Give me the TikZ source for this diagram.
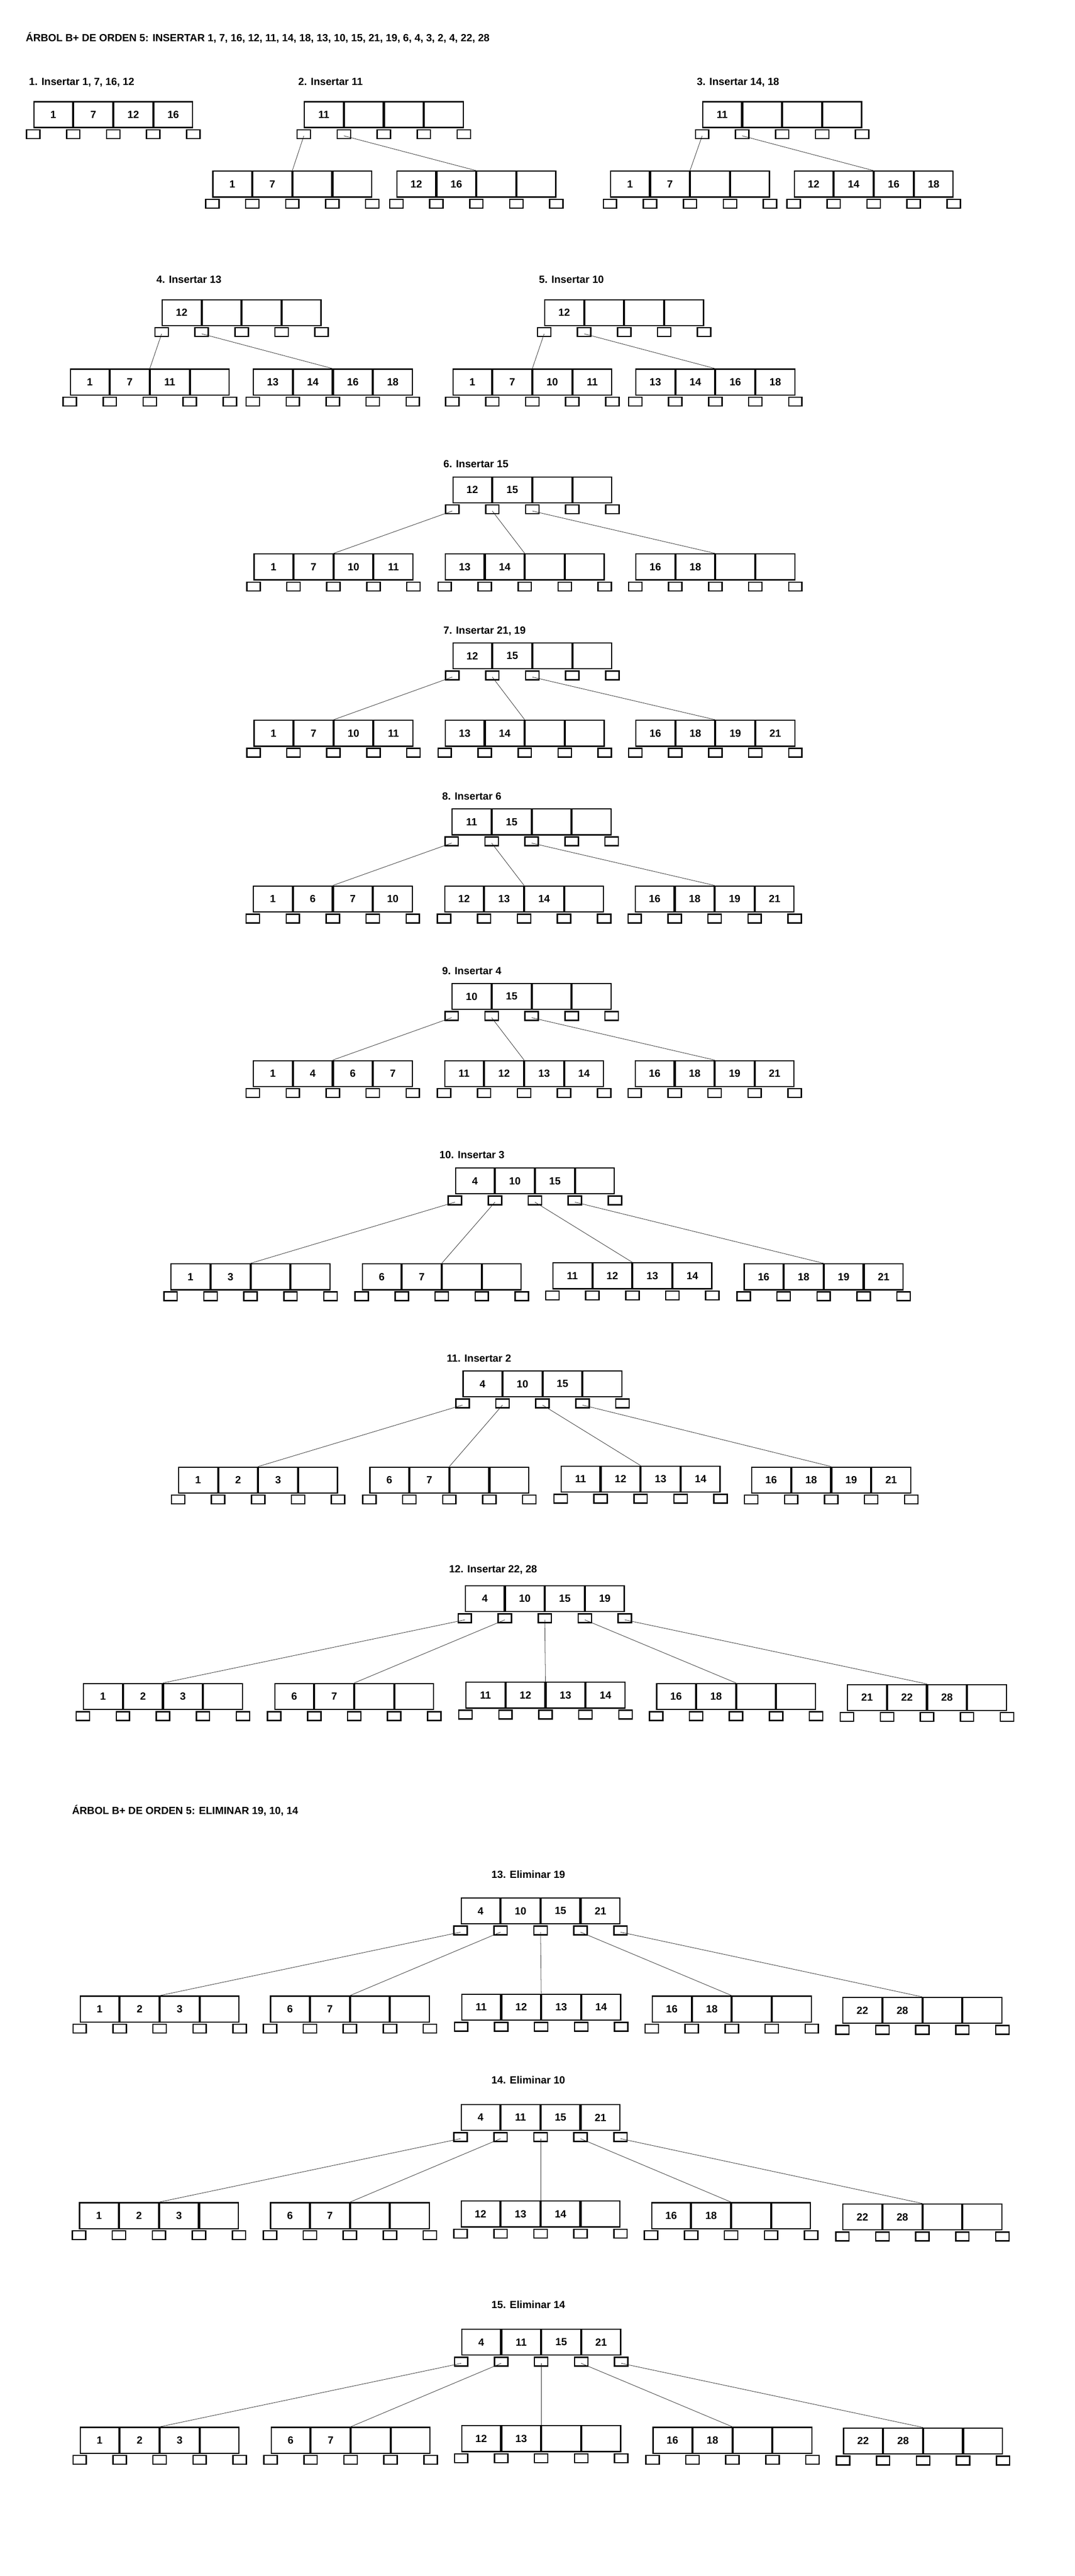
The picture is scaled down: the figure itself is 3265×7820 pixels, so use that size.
\documentclass[tikz,border=0pt]{standalone}
\usepackage{fontspec}
\setmainfont{Liberation Sans}
\tikzset{
  keybox/.style={draw=black, line width=3.5pt, minimum width=482.5pt, minimum height=78.5pt, inner sep=0pt},
  keytext/.style={inner sep=0pt, font=\fontsize{31.5}{38}\selectfont\bfseries},
  divider/.style={draw=black, line width=6.5pt},
  ptrbox/.style={draw=black, line width=4pt, minimum width=40.5pt, minimum height=26.6pt, inner sep=0pt},
  link/.style={draw=black!85, line width=1.2pt},
  lbl/.style={inner sep=0pt, anchor=base west, font=\fontsize{31.5}{38}\selectfont\bfseries},
}
% #1 name, #2 left, #3 top, #4-#7 keys
\newcommand\bpn[7]{%
  \node[keybox] (#1) at ({#2+243},{#3+41}) {};
  \draw[divider] ({#2+121.5},{#3}) -- ({#2+121.5},{#3+82});
  \draw[divider] ({#2+243},{#3}) -- ({#2+243},{#3+82});
  \draw[divider] ({#2+364.5},{#3}) -- ({#2+364.5},{#3+82});
  \node[keytext] (#1-k1) at ({#2+60.75},{#3+41}) {#4};
  \node[keytext] (#1-k2) at ({#2+182.25},{#3+41}) {#5};
  \node[keytext] (#1-k3) at ({#2+303.75},{#3+41}) {#6};
  \node[keytext] (#1-k4) at ({#2+425.25},{#3+41}) {#7};
  \foreach \i in {0,...,4}{\node[ptrbox] (#1-p\i) at ({#2+121.5*\i},{#3+100.3}) {};}
}
\newcommand\bpl[2]{\draw[link] ([yshift=-5pt]#1.center) -- (#2.north);}
\begin{document}
\begin{tikzpicture}[x=1pt,y=-1pt]
\fill[white] (0,0) rectangle (3265,7820);
\useasboundingbox (0,0) rectangle (3265,7820);

\node[lbl] (t1) at (78,126.5) {ÁRBOL B+ DE ORDEN 5: INSERTAR 1, 7, 16, 12, 11, 14, 18, 13, 10, 15, 21, 19, 6, 4, 3, 2, 4, 22, 28};

% Step 1
\node[lbl] (l1) at (88,259) {1. Insertar 1, 7, 16, 12};
\bpn{a}{101}{307}{1}{7}{12}{16}

% Step 2
\node[lbl] (l2) at (906,259) {2. Insertar 11};
\bpn{br}{923}{307}{11}{}{}{}
\bpn{ba}{645}{518}{1}{7}{}{}
\bpn{bb}{1204}{518}{12}{16}{}{}
\bpl{br-p0}{ba}\bpl{br-p1}{bb}

% Step 3
\node[lbl] (l3) at (2117,259) {3. Insertar 14, 18};
\bpn{cr}{2133}{307}{11}{}{}{}
\bpn{ca}{1853}{518}{1}{7}{}{}
\bpn{cb}{2411}{518}{12}{14}{16}{18}
\bpl{cr-p0}{ca}\bpl{cr-p1}{cb}

% Step 4
\node[lbl] (l4) at (475,859) {4. Insertar 13};
\bpn{dr}{491}{908}{12}{}{}{}
\bpn{da}{212}{1119}{1}{7}{11}{}
\bpn{db}{768}{1119}{13}{14}{16}{18}
\bpl{dr-p0}{da}\bpl{dr-p1}{db}

% Step 5
\node[lbl] (l5) at (1637,859) {5. Insertar 10};
\bpn{er}{1653}{908}{12}{}{}{}
\bpn{ea}{1374}{1119}{1}{7}{10}{11}
\bpn{eb}{1930}{1119}{13}{14}{16}{18}
\bpl{er-p0}{ea}\bpl{er-p1}{eb}

% Step 6
\node[lbl] (l6) at (1347,1419) {6. Insertar 15};
\bpn{fr}{1374}{1446}{12}{15}{}{}
\bpn{fa}{770}{1680}{1}{7}{10}{11}
\bpn{fb}{1351}{1680}{13}{14}{}{}
\bpn{fc}{1930}{1680}{16}{18}{}{}
\bpl{fr-p0}{fa}\bpl{fr-p1}{fb}\bpl{fr-p2}{fc}

% Step 7
\node[lbl] (l7) at (1347,1924) {7. Insertar 21, 19};
\bpn{gr}{1374}{1950}{12}{15}{}{}
\bpn{ga}{770}{2185}{1}{7}{10}{11}
\bpn{gb}{1351}{2185}{13}{14}{}{}
\bpn{gc}{1930}{2185}{16}{18}{19}{21}
\bpl{gr-p0}{ga}\bpl{gr-p1}{gb}\bpl{gr-p2}{gc}

% Step 8
\node[lbl] (l8) at (1343,2428) {8. Insertar 6};
\bpn{hr}{1372}{2454}{11}{15}{}{}
\bpn{ha}{768}{2688}{1}{6}{7}{10}
\bpn{hb}{1349}{2688}{12}{13}{14}{}
\bpn{hc}{1928}{2688}{16}{18}{19}{21}
\bpl{hr-p0}{ha}\bpl{hr-p1}{hb}\bpl{hr-p2}{hc}

% Step 9
\node[lbl] (l9) at (1343,2958) {9. Insertar 4};
\bpn{ir}{1372}{2984}{10}{15}{}{}
\bpn{ia}{768}{3218}{1}{4}{6}{7}
\bpn{ib}{1349}{3218}{11}{12}{13}{14}
\bpn{ic}{1928}{3218}{16}{18}{19}{21}
\bpl{ir-p0}{ia}\bpl{ir-p1}{ib}\bpl{ir-p2}{ic}

% Step 10
\node[lbl] (l10) at (1335,3517) {10. Insertar 3};
\bpn{jr}{1382}{3544}{4}{10}{15}{}
\bpn{ja}{518}{3835}{1}{3}{}{}
\bpn{jb}{1099}{3835}{6}{7}{}{}
\bpn{jc}{1678}{3832}{11}{12}{13}{14}
\bpn{jd}{2259}{3835}{16}{18}{19}{21}
\bpl{jr-p0}{ja}\bpl{jr-p1}{jb}\bpl{jr-p2}{jc}\bpl{jr-p3}{jd}

% Step 11
\node[lbl] (l11) at (1357,4134) {11. Insertar 2};
\bpn{kr}{1405}{4160}{4}{10}{15}{}
\bpn{ka}{541}{4452}{1}{2}{3}{}
\bpn{kb}{1122}{4452}{6}{7}{}{}
\bpn{kc}{1703}{4449}{11}{12}{13}{14}
\bpn{kd}{2282}{4452}{16}{18}{19}{21}
\bpl{kr-p0}{ka}\bpl{kr-p1}{kb}\bpl{kr-p2}{kc}\bpl{kr-p3}{kd}

% Step 12
\node[lbl] (l12) at (1364,4774) {12. Insertar 22, 28};
\bpn{lr}{1412}{4812}{4}{10}{15}{19}
\bpn{la}{252}{5109}{1}{2}{3}{}
\bpn{lb}{833}{5109}{6}{7}{}{}
\bpn{lc}{1414}{5105}{11}{12}{13}{14}
\bpn{ld}{1993}{5109}{16}{18}{}{}
\bpn{le}{2573}{5112}{21}{22}{28}{}
\bpl{lr-p0}{la}\bpl{lr-p1}{lb}\bpl{lr-p2}{lc}\bpl{lr-p3}{ld}\bpl{lr-p4}{le}

\node[lbl] (t2) at (219,5507) {ÁRBOL B+ DE ORDEN 5: ELIMINAR 19, 10, 14};

% Step 13
\node[lbl] (l13) at (1493,5701) {13. Eliminar 19};
\bpn{mr}{1399}{5760}{4}{10}{15}{21}
\bpn{ma}{242}{6058}{1}{2}{3}{}
\bpn{mb}{820}{6058}{6}{7}{}{}
\bpn{mc}{1401}{6052}{11}{12}{13}{14}
\bpn{md}{1980}{6058}{16}{18}{}{}
\bpn{me}{2559}{6062}{22}{28}{}{}
\bpl{mr-p0}{ma}\bpl{mr-p1}{mb}\bpl{mr-p2}{mc}\bpl{mr-p3}{md}\bpl{mr-p4}{me}

% Step 14
\node[lbl] (l14) at (1493,6326) {14. Eliminar 10};
\bpn{nr}{1399}{6387}{4}{11}{15}{21}
\bpn{na}{240}{6685}{1}{2}{3}{}
\bpn{nb}{820}{6685}{6}{7}{}{}
\bpn{nc}{1399}{6680}{12}{13}{14}{}
\bpn{nd}{1978}{6685}{16}{18}{}{}
\bpn{ne}{2559}{6689}{22}{28}{}{}
\bpl{nr-p0}{na}\bpl{nr-p1}{nb}\bpl{nr-p2}{nc}\bpl{nr-p3}{nd}\bpl{nr-p4}{ne}

% Step 15
\node[lbl] (l15) at (1493,7007) {15. Eliminar 14};
\bpn{or}{1401}{7069}{4}{11}{15}{21}
\bpn{oa}{242}{7367}{1}{2}{3}{}
\bpn{ob}{822}{7367}{6}{7}{}{}
\bpn{oc}{1401}{7362}{12}{13}{}{}
\bpn{od}{1982}{7367}{16}{18}{}{}
\bpn{oe}{2561}{7369}{22}{28}{}{}
\bpl{or-p0}{oa}\bpl{or-p1}{ob}\bpl{or-p2}{oc}\bpl{or-p3}{od}\bpl{or-p4}{oe}
\end{tikzpicture}
\end{document}
